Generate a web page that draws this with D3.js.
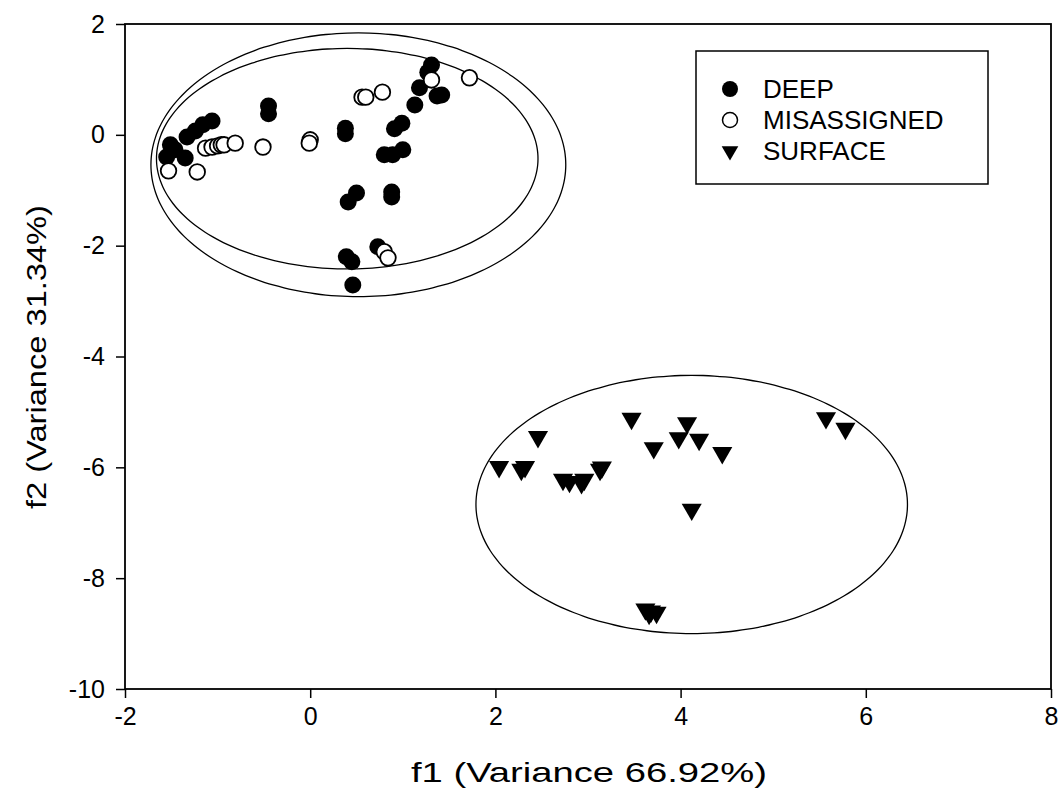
<!DOCTYPE html>
<html>
<head>
<meta charset="utf-8">
<script src="https://cdn.jsdelivr.net/npm/d3@7"></script>
<style>
  body { margin: 0; background: #fff; }
  text { font-family: "Liberation Sans", Arial, sans-serif; fill: #000; }
</style>
</head>
<body>
<div id="plot"></div>
<script>
// values
const deep = [
  [-1.51, -0.18], [-1.55, -0.40], [-1.46, -0.27], [-1.35, -0.42], [-1.33, -0.04],
  [-1.24, 0.07], [-1.16, 0.18], [-1.06, 0.25],
  [-0.45, 0.52], [-0.45, 0.38],
  [0.38, 0.12], [0.38, 0.02],
  [0.91, 0.11], [0.99, 0.21],
  [0.80, -0.36], [0.89, -0.36], [1.00, -0.27],
  [1.31, 1.26], [1.27, 1.13], [1.18, 0.85], [1.13, 0.54], [1.42, 0.72], [1.37, 0.70],
  [0.41, -1.21], [0.50, -1.05], [0.88, -1.03], [0.88, -1.12],
  [0.39, -2.20], [0.45, -2.29], [0.73, -2.02], [0.46, -2.71]
];
const misassigned = [
  [-1.53, -0.65], [-1.22, -0.67], [-1.13, -0.24], [-1.06, -0.22], [-1.00, -0.20],
  [-0.96, -0.18], [-0.93, -0.18], [-0.81, -0.15], [-0.51, -0.22],
  [0.00, -0.09], [-0.01, -0.15],
  [0.56, 0.68], [0.60, 0.68], [0.78, 0.77],
  [1.31, 0.99], [1.72, 1.03],
  [0.80, -2.11], [0.84, -2.22]
];
const surface = [
  [2.04, -5.99], [2.32, -5.99], [2.28, -6.04], [2.46, -5.45], [2.73, -6.22],
  [2.80, -6.26], [2.93, -6.28], [2.96, -6.22], [3.15, -6.00], [3.13, -6.04],
  [3.47, -5.12], [3.71, -5.65], [3.98, -5.47], [4.07, -5.20], [4.20, -5.50],
  [4.45, -5.74], [4.12, -6.76],
  [3.62, -8.56], [3.68, -8.60], [3.74, -8.62], [3.66, -8.64],
  [5.57, -5.11], [5.78, -5.30]
];
// confidence ellipses: centre x, centre y, radius x, radius y (data units)
const ellipses = [
  [0.52, -0.54, 2.24, 2.38],
  [0.40, -0.43, 2.06, 1.99],
  [4.12, -6.67, 2.33, 2.33]
];
const xTicks = [-2, 0, 2, 4, 6, 8];
const yTicks = [2, 0, -2, -4, -6, -8, -10];
const legendNames = ["DEEP", "MISASSIGNED", "SURFACE"];

const svgWidth = 1059, svgHeight = 798;
const margin = { top: 24, right: 8, bottom: 109, left: 125 };
const width = svgWidth - margin.left - margin.right;
const height = svgHeight - margin.top - margin.bottom;

const svg = d3.select("#plot").append("svg")
  .attr("width", svgWidth)
  .attr("height", svgHeight);
const g = svg.append("g")
  .attr("transform", "translate(" + margin.left + "," + margin.top + ")");

const x = d3.scaleLinear().domain([-2, 8]).range([0, width]);
const y = d3.scaleLinear().domain([-10, 2]).range([height, 0]);

const fmt = d => d < 0 ? "-" + Math.abs(d) : String(d);

// axes
const xAxis = g.append("g")
  .attr("transform", "translate(0," + height + ")")
  .call(d3.axisBottom(x).tickValues(xTicks).tickSize(9).tickPadding(9).tickFormat(fmt));
const yAxis = g.append("g")
  .call(d3.axisLeft(y).tickValues(yTicks).tickSize(9).tickPadding(11).tickFormat(fmt));
[xAxis, yAxis].forEach(a => {
  a.attr("font-size", 25).attr("font-family", "'Liberation Sans', Arial, sans-serif");
  a.select(".domain").remove();
  a.selectAll("line").attr("stroke", "#000").attr("stroke-width", 1.5);
  a.selectAll("text").attr("fill", "#000");
});

// frame
g.append("rect")
  .attr("width", width).attr("height", height)
  .attr("fill", "none").attr("stroke", "#000").attr("stroke-width", 1.8);

// ellipses
const angles = d3.range(0, 360, 3);
const ell = d3.line().curve(d3.curveCardinalClosed);
g.selectAll(".ellipse").data(ellipses).join("path")
  .attr("class", "ellipse")
  .attr("fill", "none").attr("stroke", "#000").attr("stroke-width", 1.3)
  .attr("d", e => ell(angles.map(a => {
    const t = a * Math.PI / 180;
    return [x(e[0] + e[2] * Math.cos(t)), y(e[1] + e[3] * Math.sin(t))];
  })));

// points
const tri = d3.symbol().type(d3.symbolTriangle).size(175);
g.selectAll(".deep").data(deep).join("circle")
  .attr("class", "deep")
  .attr("cx", d => x(d[0])).attr("cy", d => y(d[1])).attr("r", 8.5)
  .attr("fill", "#000");
g.selectAll(".mis").data(misassigned).join("circle")
  .attr("class", "mis")
  .attr("cx", d => x(d[0])).attr("cy", d => y(d[1])).attr("r", 7.8)
  .attr("fill", "#fff").attr("stroke", "#000").attr("stroke-width", 1.8);
g.selectAll(".surf").data(surface).join("path")
  .attr("class", "surf")
  .attr("d", tri)
  .attr("transform", d => "translate(" + x(d[0]) + "," + y(d[1]) + ") rotate(180)")
  .attr("fill", "#000");

// legend
const legend = svg.append("g").attr("transform", "translate(696,51)");
legend.append("rect")
  .attr("width", 292).attr("height", 133)
  .attr("fill", "#fff").attr("stroke", "#000").attr("stroke-width", 1.5);
const rows = legend.selectAll(".row").data(legendNames).join("g")
  .attr("class", "row")
  .attr("transform", (d, i) => "translate(34," + (38 + i * 31) + ")");
rows.filter((d, i) => i === 0).append("circle").attr("r", 8).attr("fill", "#000");
rows.filter((d, i) => i === 1).append("circle").attr("r", 7.5).attr("fill", "#fff")
  .attr("stroke", "#000").attr("stroke-width", 1.5);
rows.filter((d, i) => i === 2).append("path")
  .attr("d", d3.symbol().type(d3.symbolTriangle).size(120))
  .attr("transform", "rotate(180)").attr("fill", "#000");
rows.append("text")
  .attr("x", 33).attr("dy", "0.36em")
  .style("font-size", "26px")
  .text(d => d);

// axis titles
svg.append("text")
  .attr("x", margin.left + width / 2 + 1).attr("y", 782)
  .attr("text-anchor", "middle")
  .attr("textLength", 356).attr("lengthAdjust", "spacingAndGlyphs")
  .style("font-size", "28px")
  .text("f1 (Variance 66.92%)");
svg.append("text")
  .attr("transform", "translate(46,357) rotate(-90)")
  .attr("text-anchor", "middle")
  .attr("textLength", 304).attr("lengthAdjust", "spacingAndGlyphs")
  .style("font-size", "28px")
  .text("f2 (Variance 31.34%)");
</script>
</body>
</html>
